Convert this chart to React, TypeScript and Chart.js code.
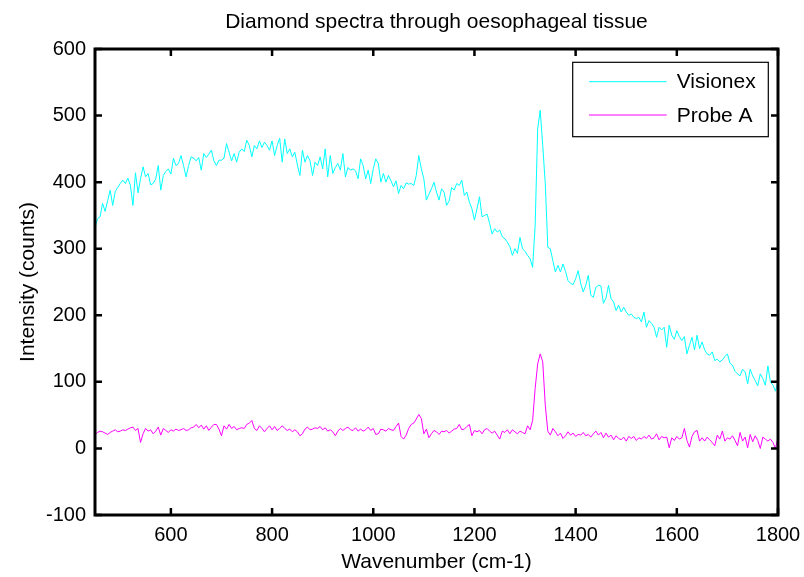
import React, { useEffect, useRef } from "react";
import { Chart, registerables } from "chart.js";

Chart.register(...registerables);

const wavenumbers = [
  450, 455, 460, 465, 470, 475, 480, 485, 490, 495,
  500, 505, 510, 515, 520, 525, 530, 535, 540, 545,
  550, 555, 560, 565, 570, 575, 580, 585, 590, 595,
  600, 605, 610, 615, 620, 625, 630, 635, 640, 645,
  650, 655, 660, 665, 670, 675, 680, 685, 690, 695,
  700, 705, 710, 715, 720, 725, 730, 735, 740, 745,
  750, 755, 760, 765, 770, 775, 780, 785, 790, 795,
  800, 805, 810, 815, 820, 825, 830, 835, 840, 845,
  850, 855, 860, 865, 870, 875, 880, 885, 890, 895,
  900, 905, 910, 915, 920, 925, 930, 935, 940, 945,
  950, 955, 960, 965, 970, 975, 980, 985, 990, 995,
  1000, 1005, 1010, 1015, 1020, 1025, 1030, 1035, 1040, 1045,
  1050, 1055, 1060, 1065, 1070, 1075, 1080, 1085, 1090, 1095,
  1100, 1105, 1110, 1115, 1120, 1125, 1130, 1135, 1140, 1145,
  1150, 1155, 1160, 1165, 1170, 1175, 1180, 1185, 1190, 1195,
  1200, 1205, 1210, 1215, 1220, 1225, 1230, 1235, 1240, 1245,
  1250, 1255, 1260, 1265, 1270, 1275, 1280, 1285, 1290, 1295,
  1300, 1305, 1310, 1315, 1320, 1325, 1330, 1335, 1340, 1345,
  1350, 1355, 1360, 1365, 1370, 1375, 1380, 1385, 1390, 1395,
  1400, 1405, 1410, 1415, 1420, 1425, 1430, 1435, 1440, 1445,
  1450, 1455, 1460, 1465, 1470, 1475, 1480, 1485, 1490, 1495,
  1500, 1505, 1510, 1515, 1520, 1525, 1530, 1535, 1540, 1545,
  1550, 1555, 1560, 1565, 1570, 1575, 1580, 1585, 1590, 1595,
  1600, 1605, 1610, 1615, 1620, 1625, 1630, 1635, 1640, 1645,
  1650, 1655, 1660, 1665, 1670, 1675, 1680, 1685, 1690, 1695,
  1700, 1705, 1710, 1715, 1720, 1725, 1730, 1735, 1740, 1745,
  1750, 1755, 1760, 1765, 1770, 1775, 1780, 1785, 1790, 1795,
  1800,
];

const visionex = [
  332, 345, 348, 368, 356, 372, 388, 365, 386, 392,
  398, 403, 398, 406, 395, 365, 414, 384, 405, 423,
  408, 413, 396, 398, 405, 425, 388, 410, 416, 420,
  412, 436, 425, 428, 440, 425, 408, 425, 438, 436,
  432, 437, 418, 443, 437, 442, 448, 432, 425, 433,
  433, 436, 458, 445, 432, 443, 430, 445, 450, 446,
  463, 455, 438, 455, 450, 462, 452, 460, 455, 448,
  462, 440, 455, 466, 430, 465, 443, 450, 438, 445,
  426, 410, 448, 430, 440, 432, 410, 430, 425, 438,
  420, 450, 408, 440, 413, 422, 428, 418, 443, 408,
  422, 418, 420, 417, 405, 435, 425, 405, 418, 398,
  420, 435, 428, 400, 413, 400, 410, 402, 393, 402,
  383, 395, 390, 399, 397, 398, 395, 410, 440, 420,
  405, 373, 382, 390, 400, 385, 373, 390, 385, 365,
  372, 392, 388, 398, 395, 403, 380, 385, 370, 360,
  343, 360, 378, 348, 350, 352, 338, 322, 330, 325,
  328, 318, 315, 310, 303, 290, 300, 293, 317, 300,
  296, 290, 285, 272, 335, 480, 508, 455, 398, 302,
  300, 282, 265, 275, 265, 277, 266, 252, 248, 246,
  255, 267, 248, 235, 245, 260, 230, 227, 242, 245,
  244, 218, 226, 245, 225, 220, 207, 215, 205, 212,
  205, 200, 202, 197, 195, 197, 190, 205, 182, 192,
  188, 182, 167, 182, 178, 182, 152, 185, 170, 164,
  177, 168, 162, 168, 142, 155, 167, 148, 170, 150,
  160, 148, 142, 140, 145, 132, 134, 130, 133, 138,
  142, 128, 125, 116, 112, 109, 119, 115, 97, 119,
  109, 102, 94, 112, 105, 95, 124, 100, 95, 86,
  102,
];

const probeA = [
  21, 24, 26, 25, 23, 21, 24, 26, 28, 25,
  26, 28, 27, 29, 31, 32, 27, 30, 9, 22,
  30, 26, 28, 22, 26, 32, 20, 30, 27, 24,
  28, 26, 29, 27, 28, 30, 27, 28, 31, 32,
  36, 31, 35, 29, 34, 27, 32, 36, 36, 29,
  19, 34, 29, 36, 30, 33, 28, 30, 31, 30,
  36, 38, 42, 30, 27, 34, 30, 25, 30, 34,
  28, 33, 27, 30, 34, 30, 27, 29, 25, 28,
  25, 19, 22, 29, 32, 28, 29, 31, 30, 33,
  28, 31, 26, 28, 25, 19, 26, 30, 27, 30,
  32, 28, 27, 31, 26, 29, 26, 28, 32, 27,
  30, 21, 22, 29, 28, 26, 30, 28, 27, 33,
  38, 18, 14, 20, 30, 36, 38, 44, 51, 45,
  22, 29, 16, 22, 27, 25, 21, 26, 25, 27,
  23, 26, 29, 30, 36, 28, 29, 33, 36, 19,
  27, 25, 27, 22, 28, 30, 26, 23, 26, 20,
  14, 26, 24, 28, 22, 28, 25, 22, 26, 24,
  22, 34, 28, 42, 90, 127, 142, 130, 65, 26,
  20, 30, 25, 19, 23, 15, 19, 25, 20, 23,
  18, 21, 20, 24, 19, 21, 17, 22, 26, 20,
  24, 16, 23, 17, 20, 13, 19, 15, 13, 17,
  11, 18, 15, 18, 12, 16, 14, 18, 15, 20,
  14, 16, 22, 13, 18, 16, 17, 1, 16, 12,
  18, 14, 16, 30, 12, 2, 18, 25, 27, 11,
  16, 11, 17, 13, 9, 4, 20, 14, 26, 11,
  16, 14, 19, 12, 4, 24, 11, 17, 1, 21,
  10, 19, 12, 0, 17, 14, 11, 14, 9, 0,
  16,
];

const xTicks = [600, 800, 1000, 1200, 1400, 1600, 1800];
const yTicks = [-100, 0, 100, 200, 300, 400, 500, 600];
const seriesNames = ["Visionex", "Probe A"];
const seriesColors = ["#00ffff", "#ff00ff"];
const titleText = "Diamond spectra through oesophageal tissue";
const xTitle = "Wavenumber (cm-1)";
const yTitle = "Intensity (counts)";

const FONT = "'Liberation Sans', Arial, Helvetica, sans-serif";

const boxPlugin = {
  id: "matlabBox",
  afterDatasetsDraw(chart: any) {
    const { ctx, chartArea: a, scales } = chart;
    ctx.save();
    ctx.strokeStyle = "#000";
    ctx.lineWidth = 2.5;
    const L = 7;
    ctx.beginPath();
    xTicks.forEach((v) => {
      const px = scales.x.getPixelForValue(v);
      ctx.moveTo(px, a.bottom);
      ctx.lineTo(px, a.bottom - L);
      ctx.moveTo(px, a.top);
      ctx.lineTo(px, a.top + L);
    });
    yTicks.forEach((v) => {
      const py = scales.y.getPixelForValue(v);
      ctx.moveTo(a.left, py);
      ctx.lineTo(a.left + L, py);
      ctx.moveTo(a.right, py);
      ctx.lineTo(a.right - L, py);
    });
    ctx.stroke();
    ctx.lineWidth = 3;
    ctx.strokeRect(a.left, a.top, a.right - a.left, a.bottom - a.top);

    // legend
    const lx = a.right - 205.3;
    const ly = a.top + 13.3;
    const lw = 195.6;
    const lh = 74.4;
    ctx.fillStyle = "#fff";
    ctx.fillRect(lx, ly, lw, lh);
    ctx.lineWidth = 1.2;
    ctx.strokeStyle = "#000";
    ctx.strokeRect(lx, ly, lw, lh);
    const rows = [19.4, 52.7];
    ctx.font = `21px ${FONT}`;
    ctx.textBaseline = "middle";
    ctx.textAlign = "left";
    seriesNames.forEach((name, i) => {
      const y = ly + rows[i];
      ctx.strokeStyle = seriesColors[i];
      ctx.lineWidth = 1;
      ctx.beginPath();
      ctx.moveTo(lx + 16.3, y);
      ctx.lineTo(lx + 94, y);
      ctx.stroke();
      ctx.fillStyle = "#000";
      ctx.fillText(name, lx + 104, y + 1);
    });
    ctx.restore();
  },
};

export default function App() {
  const canvasRef = useRef<HTMLCanvasElement | null>(null);

  useEffect(() => {
    const canvas = canvasRef.current;
    if (!canvas) return;
    const chart = new Chart(canvas, {
      type: "line",
      data: {
        datasets: [
          {
            label: seriesNames[0],
            data: wavenumbers.map((w, i) => ({ x: w, y: visionex[i] })),
            borderColor: seriesColors[0],
            borderWidth: 1,
            pointRadius: 0,
            tension: 0,
            fill: false,
          },
          {
            label: seriesNames[1],
            data: wavenumbers.map((w, i) => ({ x: w, y: probeA[i] })),
            borderColor: seriesColors[1],
            borderWidth: 1,
            pointRadius: 0,
            tension: 0,
            fill: false,
          },
        ],
      },
      options: {
        responsive: false,
        devicePixelRatio: 1,
        animation: false,
        layout: { padding: { left: 0, right: 26, top: 0, bottom: 0 } },
        plugins: {
          legend: { display: false },
          tooltip: { enabled: false },
          title: {
            display: true,
            text: titleText,
            fullSize: false,
            color: "#000",
            font: { family: FONT, size: 21, weight: "normal" },
            padding: { top: 10, bottom: 13.8 },
          },
        },
        scales: {
          x: {
            type: "linear",
            min: 450,
            max: 1800,
            afterBuildTicks: (s: any) => {
              s.ticks = xTicks.map((value) => ({ value }));
            },
            afterFit: (s: any) => {
              s.height = 62;
              s.paddingLeft = 0;
              s.paddingRight = 0;
            },
            grid: { display: false, drawTicks: false },
            border: { display: false },
            ticks: {
              color: "#000",
              padding: 8,
              maxRotation: 0,
              autoSkip: false,
              font: { family: FONT, size: 20 },
              callback: (v: any) => String(v),
            },
            title: {
              display: true,
              text: xTitle,
              color: "#000",
              font: { family: FONT, size: 21 },
              padding: { top: 0, bottom: 2 },
            },
          },
          y: {
            type: "linear",
            min: -100,
            max: 600,
            afterBuildTicks: (s: any) => {
              s.ticks = yTicks.map((value) => ({ value }));
            },
            afterFit: (s: any) => {
              s.width = 95;
              s.paddingTop = 0;
              s.paddingBottom = 0;
            },
            grid: { display: false, drawTicks: false },
            border: { display: false },
            ticks: {
              color: "#000",
              padding: 9,
              autoSkip: false,
              font: { family: FONT, size: 20 },
              callback: (v: any) => String(v),
            },
            title: {
              display: true,
              text: yTitle,
              color: "#000",
              font: { family: FONT, size: 21 },
              padding: { top: 15.4, bottom: 0 },
            },
          },
        },
      },
      plugins: [boxPlugin],
    });
    return () => chart.destroy();
  }, []);

  return (
    <div style={{ position: "absolute", left: 0, top: 0, width: 804, height: 577, background: "#fff" }}>
      <canvas ref={canvasRef} width={804} height={577} style={{ display: "block" }} />
    </div>
  );
}
